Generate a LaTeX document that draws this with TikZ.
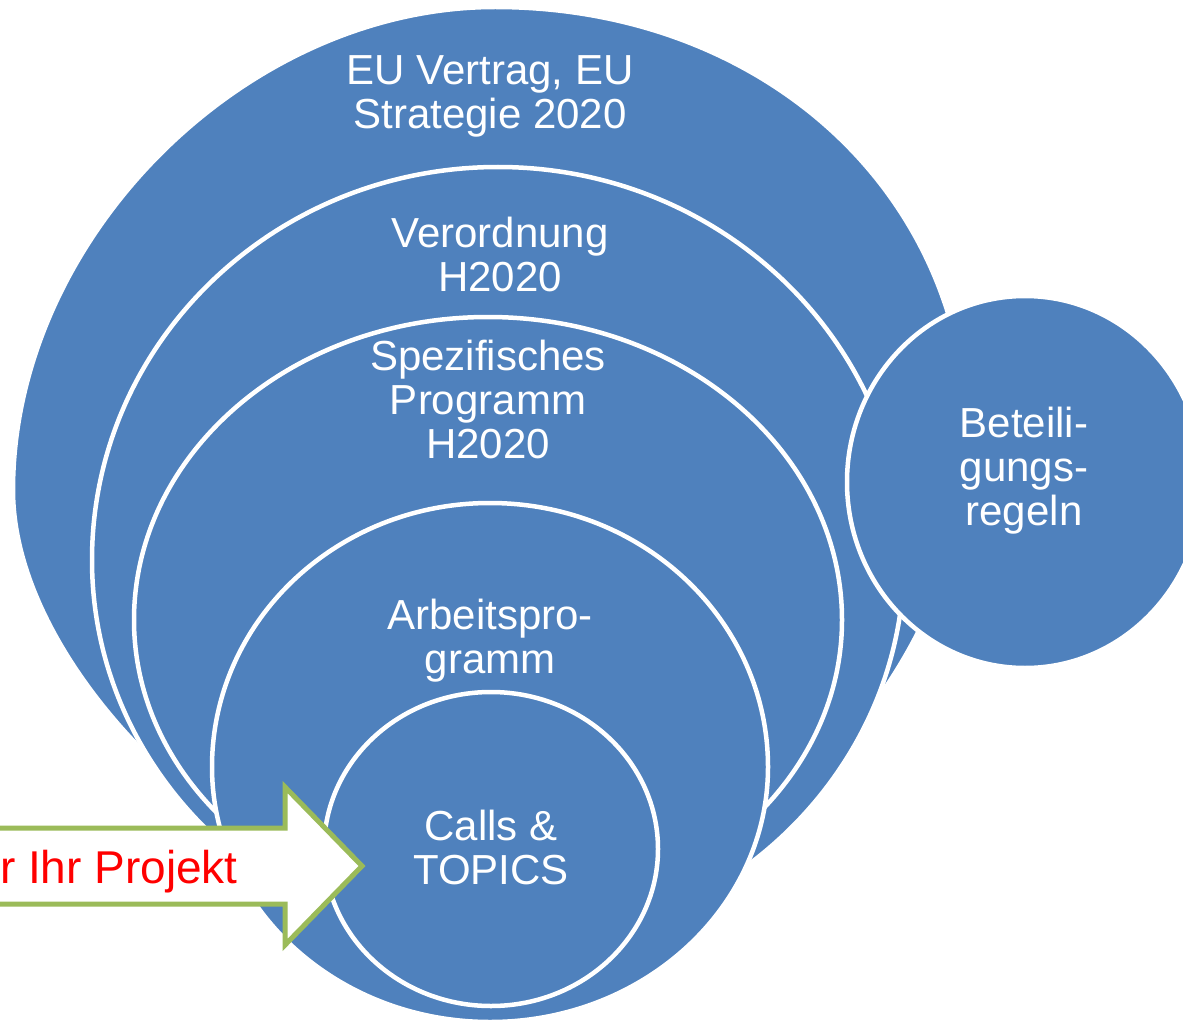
\documentclass[tikz,border=0pt]{standalone}
\usepackage{fontspec}
\setmainfont{Liberation Sans}
\definecolor{diskblue}{HTML}{4F81BD}
\definecolor{arrowgreen}{HTML}{9BBB59}
\definecolor{labelred}{HTML}{FF0000}

% bulge factors of the four quarter arcs (top-right, bottom-right,
% bottom-left, top-left)
\newcommand{\setbulge}[4]{\def\kTR{#1}\def\kBR{#2}\def\kBL{#3}\def\kTL{#4}}
% closed oval through its top, right, bottom and left extreme points
\newcommand{\blobpath}[8]{%
  ({#1},{#2})
  .. controls ({#1+\kTR*(#3-#1)},{#2}) and ({#3},{#4-\kTR*(#4-#2)}) .. ({#3},{#4})
  .. controls ({#3},{#4+\kBR*(#6-#4)}) and ({#5+\kBR*(#3-#5)},{#6}) .. ({#5},{#6})
  .. controls ({#5-\kBL*(#5-#7)},{#6}) and ({#7},{#8+\kBL*(#6-#8)}) .. ({#7},{#8})
  .. controls ({#7},{#8-\kTL*(#8-#2)}) and ({#1-\kTL*(#1-#7)},{#2}) .. ({#1},{#2}) -- cycle}
% plain oval: centre, half width, upper and lower half height
\newcommand{\ovalpath}[5]{%
  \blobpath{#1}{(#2-#4)}{(#1+#3)}{#2}{#1}{(#2+#5)}{(#1-#3)}{#2}}

\tikzset{
  disk/.style={fill=diskblue, draw=white, line width=4.5},
  disklabel/.style={anchor=north, inner sep=0, align=center, text=white,
    font=\fontsize{42}{44}\selectfont},
}

\begin{document}
\begin{tikzpicture}[x=1pt, y=-1pt]
  \useasboundingbox (0,0) rectangle (1183,1027);
  \clip (0,0) rectangle (1183,1027);
  \fill[white] (0,0) rectangle (1183,1027);

  % nested ovals, outermost first
  \setbulge{0.57}{0.5}{0.45}{0.52}
  \path[disk] \blobpath{495}{7}{967}{440}{489}{920}{13}{490};
  \setbulge{0.5523}{0.5523}{0.5523}{0.5523}
  \path[disk] \ovalpath{498}{560}{406}{393}{387};
  \path[disk] \ovalpath{488}{620}{354}{303}{300};
  \path[disk] \ovalpath{490}{767}{278}{264}{255};
  \path[disk] \ovalpath{491}{849}{167}{157}{157};
  % side circle
  \path[disk] \ovalpath{1025}{482}{178}{186}{186};

  % entry arrow
  \draw[fill=white, draw=arrowgreen, line width=5, line join=miter]
    (-30,828) -- (285,828) -- (285,787) -- (362,866)
    -- (285,945) -- (285,904) -- (-30,904) -- cycle;

  % labels
  \node[disklabel] (treaty)   at (490,85-30)  {EU Vertrag, EU\\Strategie 2020};
  \node[disklabel] (regul)    at (500,247-30) {Verordnung\\H2020};
  \node[disklabel] (specific) at (488,370-30) {Spezifisches\\Programm\\H2020};
  \node[disklabel] (workprog) at (490,629-30) {Arbeitspro-\\gramm};
  \node[disklabel] (calls)    at (491,840-30) {Calls \&\\TOPICS};
  \node[disklabel] (rules)    at (1024,437-30) {Beteili-\\gungs-\\regeln};
  \node[anchor=base east, inner sep=0, text=labelred,
        font=\fontsize{46}{50}\selectfont] (project) at (238,883) {r Ihr Projekt};
\end{tikzpicture}
\end{document}
